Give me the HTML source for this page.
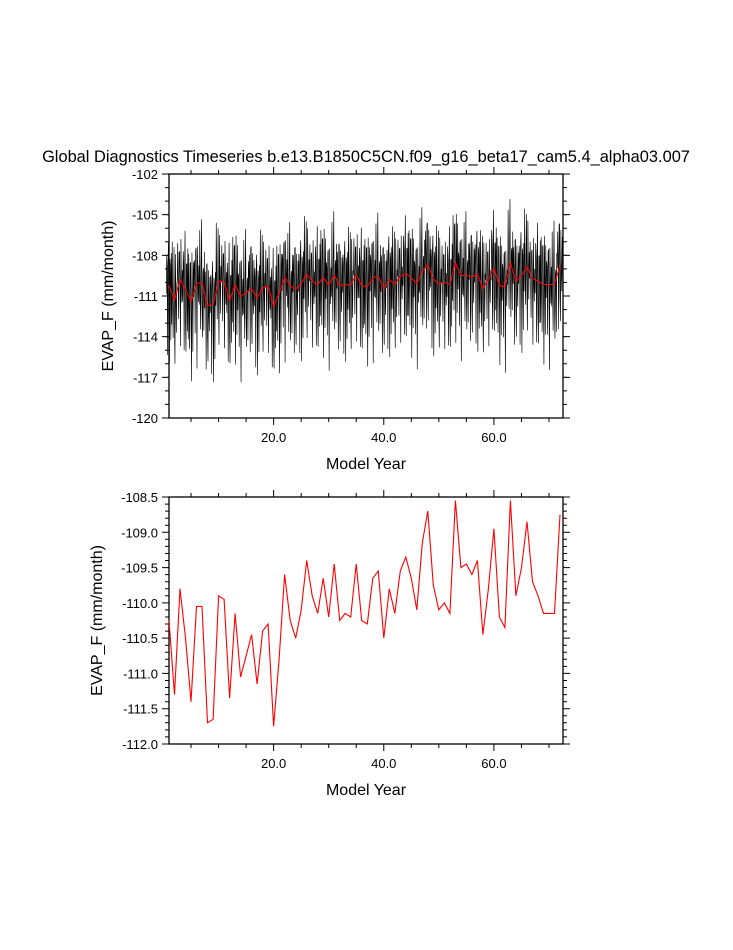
<!DOCTYPE html>
<html><head><meta charset="utf-8"><style>
body{margin:0;background:#fff;width:733px;height:945px;overflow:hidden}
svg text{font-family:"Liberation Sans",sans-serif;fill:#000}
</style></head><body>
<svg id="s" width="733" height="945">
<text x="366" y="162" text-anchor="middle" font-size="16.4">Global Diagnostics Timeseries b.e13.B1850C5CN.f09_g16_beta17_cam5.4_alpha03.007</text>
</svg>
<script>
const years=[];for(let i=1;i<=72;i++)years.push(i);
const annualMeans=[-110.25,-111.3,-109.8,-110.5,-111.4,-110.05,-110.05,-111.7,-111.65,-109.9,-109.95,-111.35,-110.15,-111.05,-110.75,-110.45,-111.15,-110.4,-110.3,-111.75,-110.8,-109.6,-110.25,-110.5,-110.1,-109.4,-109.9,-110.15,-109.65,-110.2,-109.45,-110.25,-110.15,-110.2,-109.45,-110.25,-110.3,-109.65,-109.55,-110.5,-109.8,-110.15,-109.55,-109.35,-109.65,-110.1,-109.15,-108.7,-109.75,-110.1,-110.0,-110.15,-108.55,-109.5,-109.45,-109.6,-109.4,-110.45,-109.8,-108.95,-110.2,-110.35,-108.55,-109.9,-109.5,-108.85,-109.7,-109.9,-110.15,-110.15,-110.15,-108.75];
const monthlyClim=[-1.2,3.0,0.4,-3.6,1.8,3.4,-1.4,-4.8,2.4,0.6,-2.8,2.2];
const monthlyNoise=[0.6,-0.8,1.1,-1.5,0.3,-0.2,1.4,-0.9,-0.4,0.9,-1.2,0.2,-0.6,1.3,-0.3,0.8,-1.6,0.5,-0.7,0.1,1.0,-0.5,0.4,-1.1,1.2,-0.3,-0.9,0.7,0.2,-1.3,0.9,-0.1];
const topYTicks=[-120,-117,-114,-111,-108,-105,-102];
const botYTicks=[-112.0,-111.5,-111.0,-110.5,-110.0,-109.5,-109.0,-108.5];
const xTicks=[20,40,60];

const NS="http://www.w3.org/2000/svg",svg=document.getElementById('s');
function mk(t,a,p){const e=document.createElementNS(NS,t);for(const k in a)e.setAttribute(k,a[k]);(p||svg).appendChild(e);return e;}
const X0=169,X1=563;
const xs=v=>169+(v-1)*(560-169)/71;
function panel(top,bot,ymin,ymax,yticks,minorStep,fmt,name){
 const ys=v=>bot-(v-ymin)/(ymax-ymin)*(bot-top);
 const g=mk('g',{});
 
 
 const fr=mk('rect',{x:X0,y:top,width:X1-X0,height:bot-top,fill:'none',stroke:'#000','stroke-width':1.3},g);
 
 let d='';
 for(let v=ymin;v<=ymax+1e-6;v+=minorStep){const y=ys(v).toFixed(1);d+=`M${X0} ${y}h-4M${X1} ${y}h4`;}
 for(let v=0;v<=75;v+=5){const x=xs(v);if(x<X0||x>X1)continue;d+=`M${x} ${bot}v4M${x} ${top}v-4`;}
 yticks.forEach(v=>{const y=ys(v);d+=`M${X0} ${y}h-7M${X1} ${y}h7`;
  const t=mk('text',{x:X0-11,y:y+5,'text-anchor':'end','font-size':13},g);t.textContent=fmt(v);
  });
 xTicks.forEach(v=>{const x=xs(v);d+=`M${x} ${bot}v7M${x} ${top}v-7`;
  const t=mk('text',{x:x,y:bot+24,'text-anchor':'middle','font-size':13},g);t.textContent=v.toFixed(1);
  });
 const tk=mk('path',{d:d,stroke:'#000','stroke-width':1,fill:'none'},g);
 
 const xt=mk('text',{x:366,y:bot+51,'text-anchor':'middle','font-size':16},g);xt.textContent='Model Year';
 
 const cy=(top+bot)/2;
 const yt=mk('text',{x:0,y:0,'text-anchor':'middle','font-size':16,transform:`translate(${name==='top-panel'?113:102},${cy}) rotate(-90)`},g);yt.textContent='EVAP_F (mm/month)';
 
 return ys;
}
const ysT=panel(174,418,-120,-102,topYTicks,1,v=>String(v),'top-panel');
const ysB=panel(497,744,-112,-108.5,botYTicks,0.1,v=>v.toFixed(1),'bottom-panel');
let pm='';
years.forEach((yr,i)=>{for(let m=0;m<12;m++){const k=i*12+m;
 const v=annualMeans[i]+monthlyClim[m]+monthlyNoise[k%monthlyNoise.length];
 const x=xs(yr-0.5+m/12);pm+=(k?'L':'M')+x.toFixed(2)+' '+ysT(v).toFixed(1);}});
const bl=mk('path',{d:pm,stroke:'#000','stroke-width':0.65,fill:'none'});

let pr='';years.forEach((yr,i)=>{pr+=(i?'L':'M')+xs(yr).toFixed(1)+' '+ysT(annualMeans[i]).toFixed(1);});
const r1=mk('path',{d:pr,stroke:'#f00','stroke-width':1.1,fill:'none'});

let pb='';years.forEach((yr,i)=>{pb+=(i?'L':'M')+xs(yr).toFixed(1)+' '+ysB(annualMeans[i]).toFixed(1);});
const r2=mk('path',{d:pb,stroke:'#f00','stroke-width':1.1,fill:'none'});

</script>
</body></html>
